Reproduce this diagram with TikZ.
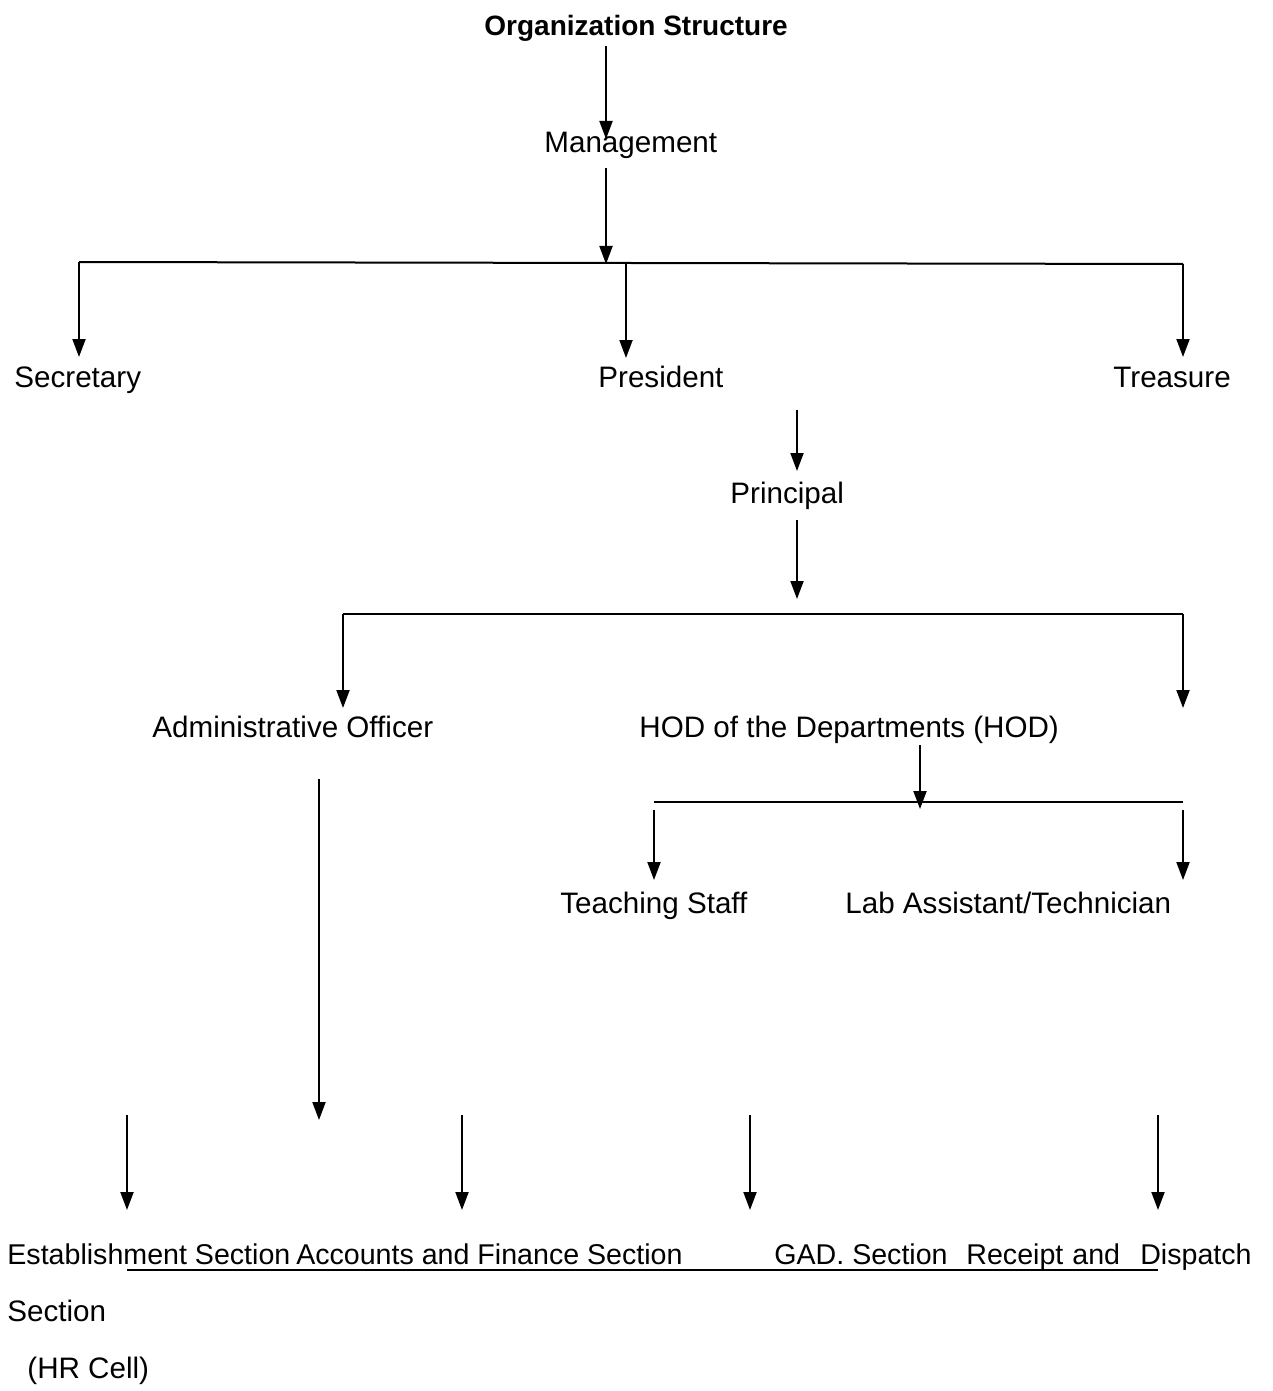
\documentclass[tikz,border=0pt]{standalone}
\usepackage{fontspec}
\setmainfont{Liberation Sans}
\usetikzlibrary{arrows.meta}
\tikzset{
  lbl/.style={inner sep=0pt, anchor=base west, font=\fontsize{14.8}{18}\selectfont},
  small/.style={font=\fontsize{14.3}{17}\selectfont},
  arr/.style={line width=1pt, -{Triangle[width=6.5pt,length=9pt]}},
  bar/.style={line width=1pt},
}
\begin{document}
\begin{tikzpicture}[x=0.5pt, y=-0.5pt]
  \useasboundingbox (0,0) rectangle (1273,1391);
  % top levels
  \node[lbl, font=\fontsize{14}{17}\selectfont\bfseries] (title) at (484,36) {Organization Structure};
  \node[lbl] (mgmt) at (544,153) {Management};
  \node[lbl] (sec) at (14,387) {Secretary};
  \node[lbl] (pres) at (598,387) {President};
  \node[lbl] (treas) at (1113,387) {Treasure};
  \node[lbl] (princ) at (730,503) {Principal};
  \node[lbl] (admin) at (152,737) {Administrative Officer};
  \node[lbl] (hod) at (639,737) {HOD of the Departments (HOD)};
  \node[lbl] (teach) at (560,913) {Teaching Staff};
  \node[lbl] (lab) at (845,913) {Lab Assistant/Technician};
  % bottom row
  \node[lbl, small] (estab) at (7,1264) {Establishment Section};
  \node[lbl, small, anchor=base east] (acc) at (683,1264) {Accounts and Finance Section};
  \node[lbl, small] (gad) at (774,1264) {GAD. Section};
  \node[lbl, small] (rec) at (966,1264) {Receipt};
  \node[lbl, small] (and) at (1072,1264) {and};
  \node[lbl, small, anchor=base east] (disp) at (1252,1264) {Dispatch};
  \node[lbl] (estab2) at (7,1321) {Section};
  \node[lbl] (hr) at (27,1378) {(HR Cell)};
  % junctions
  \coordinate (t1) at (79,262);
  \coordinate (t2) at (1183,264);
  \coordinate (m1) at (343,614);
  \coordinate (m2) at (1183,614);
  \coordinate (h1) at (654,802);
  \coordinate (h2) at (1183,802);
  \draw[bar] (t1) -- (t2);
  \draw[bar] (m1) -- (m2);
  \draw[bar] (h1) -- (h2);
  \draw[bar] (127,1270) coordinate (u1) -- (1158,1270) coordinate (u2);
  % arrows
  \draw[arr] (606,46) -- (606,139);
  \draw[arr] (606,168) -- (606,264);
  \draw[arr] (t1) -- (79,357);
  \draw[arr] (626,263) -- (626,358);
  \draw[arr] (t2) -- (1183,357);
  \draw[arr] (797,410) -- (797,471);
  \draw[arr] (797,520) -- (797,599);
  \draw[arr] (m1) -- (343,708);
  \draw[arr] (m2) -- (1183,708);
  \draw[arr] (920,745) -- (920,809);
  \draw[arr] (654,810) -- (654,880);
  \draw[arr] (1183,810) -- (1183,880);
  \draw[arr] (319,779) -- (319,1120);
  \draw[arr] (127,1115) -- (127,1210);
  \draw[arr] (462,1115) -- (462,1210);
  \draw[arr] (750,1115) -- (750,1210);
  \draw[arr] (1158,1115) -- (1158,1210);
\end{tikzpicture}
\end{document}
